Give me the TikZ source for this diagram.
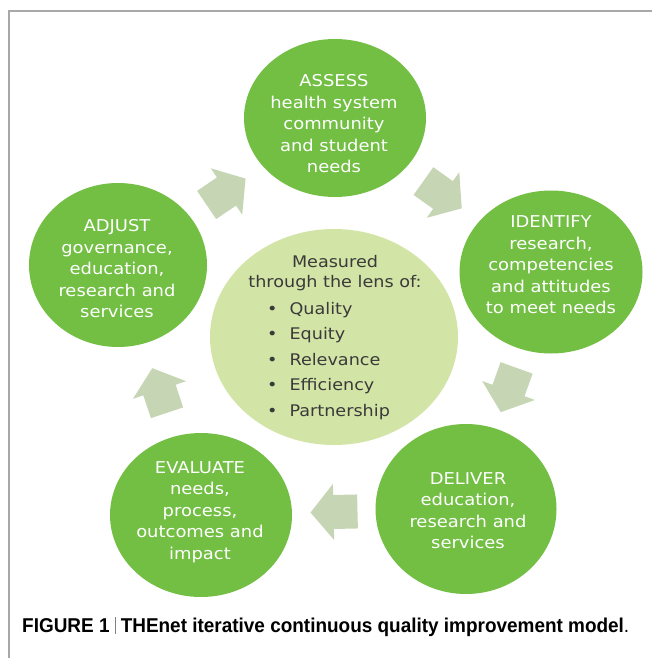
\documentclass[tikz,border=0pt]{standalone}
\usepackage{fontspec}
\usepackage{graphicx}
\setmainfont{DejaVu Sans}[FakeStretch=1.1]
\newfontfamily\capfont{Liberation Sans}
\usetikzlibrary{shapes.geometric,calc}
\definecolor{dgreen}{HTML}{72BF44}
\definecolor{lgreen}{HTML}{D3E5A6}
\definecolor{agreen}{HTML}{C6D6B5}
\definecolor{framegray}{HTML}{A8A8A8}
\definecolor{ctext}{HTML}{3A3A3A}
\newcommand{\qiArrow}[3]{%
  \coordinate (#3-m) at ($(#1.center)!0.5!(#2.center)$);
  \coordinate (#3-t) at ($(#3-m)!-24pt!(#2.center)$);
  \fill[agreen] ($(#3-m)!23pt!(#2.center)$) -- ($(#3-m)!28pt!90:(#2.center)$)
    -- ($(#3-m)!17pt!90:(#2.center)$) -- ($(#3-t)!17pt!90:(#2.center)$)
    -- ($(#3-t)!17pt!-90:(#2.center)$) -- ($(#3-m)!17pt!-90:(#2.center)$)
    -- ($(#3-m)!28pt!-90:(#2.center)$) -- cycle;}
\begin{document}
\begin{tikzpicture}[x=1pt,y=-1pt,
  circ/.style={ellipse, fill=dgreen, inner sep=0, minimum width=182pt, minimum height=164pt},
  ctxt/.style={text=white, align=center, inner sep=0, font=\fontsize{16.3pt}{21.5pt}\selectfont},
  ltxt/.style={text=ctext, inner sep=0, font=\fontsize{16pt}{20.5pt}\selectfont}]
\useasboundingbox (0,0) rectangle (652,658);
\fill[white] (0,0) rectangle (652,658);
\draw[framegray, line width=1.2pt] (9,658) -- (9,11) -- (652,11);
% outer circles
\node[circ, minimum height=158pt] (assess) at (335,118) {};
\node[circ, minimum width=183pt, minimum height=163pt] (identify) at (551,272) {};
\node[circ, minimum width=181pt, minimum height=170pt] (deliver) at (466,509) {};
\node[circ] (evaluate) at (201,515) {};
\node[circ, minimum width=178pt] (adjust) at (118,265) {};
% centre
\node[ellipse, fill=lgreen, inner sep=0, minimum width=248pt, minimum height=216pt] (lens) at (334,337) {};
% texts
\node[ctxt] (assess-t) at (334,124) {ASSESS\\health system\\community\\and student\\needs};
\node[ctxt] (identify-t) at (551,265) {IDENTIFY\\research,\\competencies\\and attitudes\\to meet needs};
\node[ctxt] (deliver-t) at (468,510.5) {DELIVER\\education,\\research and\\services};
\node[ctxt] (evaluate-t) at (200,512) {EVALUATE\\needs,\\process,\\outcomes and\\impact};
\node[ctxt] (adjust-t) at (117,269) {ADJUST\\governance,\\education,\\research and\\services};
\node[ltxt, align=center] (lens-title) at (335,273) {Measured\\through the lens of:};
\node[ltxt, align=left, anchor=west, font=\fontsize{16pt}{25.5pt}\selectfont] (lens-list) at (267,361)
  {•\hspace{12pt}Quality\\•\hspace{12pt}Equity\\•\hspace{12pt}Relevance\\•\hspace{12pt}Efficiency\\•\hspace{12pt}Partnership};
% block arrows
\qiArrow{adjust}{assess}{a1}
\qiArrow{assess}{identify}{a2}
\qiArrow{identify}{deliver}{a3}
\qiArrow{deliver}{evaluate}{a4}
\qiArrow{evaluate}{adjust}{a5}
% caption
\node[anchor=base west, inner sep=0, text=black] (caption) at (22,632)
  {\resizebox{607pt}{\height}{\capfont\fontsize{20pt}{22pt}\selectfont\bfseries FIGURE 1 \textcolor{gray}{\rule[-2pt]{0.7pt}{17pt}} THEnet iterative continuous quality improvement model\mdseries.}};
\end{tikzpicture}
\end{document}
